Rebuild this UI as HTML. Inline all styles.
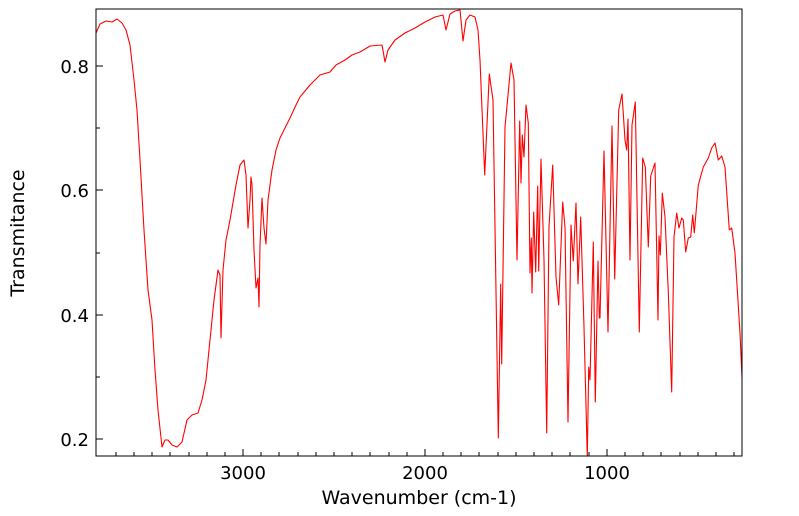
<!DOCTYPE html>
<html><head><style>body{margin:0;background:#fff}svg{display:block}</style></head><body>
<svg width="799" height="516" xmlns="http://www.w3.org/2000/svg" font-family="DejaVu Sans, sans-serif">
<rect width="799" height="516" fill="#fff"/>
<defs><clipPath id="c"><rect x="96" y="9" width="646" height="447"/></clipPath></defs>
<polyline clip-path="url(#c)" fill="none" stroke="#ff0000" stroke-width="1.1" stroke-linejoin="round" points="96,33 100,24 106,21 112,22 117,19 122,23 126,30 130,45 134,80 137,110 140,160 144,230 148,290 152,320 155,370 158,410 162,447 165,440 168,440 172,445 177,447 182,442 187,420 192,415 198,413 202,400 206,380 210,340 214,300 218,270 220,275 221,338 223,270 226,240 230,220 236,185 240,165 244,160 246,175 248,228 250,200 251,177 252,185 254,250 256,288 258,278 259,307 260,245 262,198 264,228 266,244 268,200 272,170 276,150 280,138 285,128 290,118 296,105 300,97 310,85 320,75 330,72 336,65 345,60 352,55 360,52 370,46 382,45 385,62 388,50 395,40 405,33 415,28 425,22 435,17 443,15 446,30 450,14 455,11 460,10 463,41 466,20 470,15 475,17 478,30 480,60 484.7,175 489.3,74 493,100 498.3,438 500.7,284 501.7,364 505,127 511,63 514,80 517,260 519.7,121 521,183 522.3,135 524,157 526,105 528.3,123 530,273 531.3,238 532,293 533.7,212 535.7,272 537.7,186 538.7,271 541,159 544,260 546.7,433 549,227 552.7,165 556,277 558.7,305 562.7,202 565,227 568,422 571,225 573.3,261 576,203 578,284 580.7,217 584,327 587.3,457 588.7,367 590,380 593.3,242 595.3,402 598,261 599.3,318 600,318 604,151 608,332 612,126 614.7,279 618.7,110 622,94 625,140 626.7,150 628,119 630,260 632,125 635.3,102 639.3,332 642.7,158 645.3,167 648.3,247 650.7,176 655,163 658,320 659,236 660.3,255 662.3,193 665,217 668.3,292 671.7,392 674,237 676.7,213 679,228 681.7,218 683.3,220 685.7,252 688.3,238 690.7,237 692.7,215 694.3,233 698.3,185 703.3,167 708.3,158 711.7,148 715,143 718.3,160 721.7,156 725,167 729.3,230 731.7,228 735,253 740,333 742.7,393"/>
<rect x="96" y="9" width="646" height="447" fill="none" stroke="#000" stroke-width="1"/>
<g stroke="#000" stroke-width="1">
<line x1="243" y1="456" x2="243" y2="449"/><line x1="425" y1="456" x2="425" y2="449"/><line x1="607" y1="456" x2="607" y2="449"/>
<line x1="96" y1="66" x2="103" y2="66"/><line x1="96" y1="190" x2="103" y2="190"/><line x1="96" y1="315" x2="103" y2="315"/><line x1="96" y1="439" x2="103" y2="439"/>
<line x1="96" y1="128" x2="100" y2="128"/><line x1="96" y1="253" x2="100" y2="253"/><line x1="96" y1="377" x2="100" y2="377"/>
</g>
<g stroke="#000" stroke-width="1">
<line x1="116" y1="456" x2="116" y2="452"/><line x1="134" y1="456" x2="134" y2="452"/><line x1="152" y1="456" x2="152" y2="452"/><line x1="170" y1="456" x2="170" y2="452"/><line x1="189" y1="456" x2="189" y2="452"/><line x1="207" y1="456" x2="207" y2="452"/><line x1="225" y1="456" x2="225" y2="452"/>
<line x1="261" y1="456" x2="261" y2="452"/><line x1="279" y1="456" x2="279" y2="452"/><line x1="298" y1="456" x2="298" y2="452"/><line x1="316" y1="456" x2="316" y2="452"/><line x1="334" y1="456" x2="334" y2="452"/><line x1="352" y1="456" x2="352" y2="452"/><line x1="370" y1="456" x2="370" y2="452"/><line x1="389" y1="456" x2="389" y2="452"/><line x1="407" y1="456" x2="407" y2="452"/>
<line x1="443" y1="456" x2="443" y2="452"/><line x1="461" y1="456" x2="461" y2="452"/><line x1="479" y1="456" x2="479" y2="452"/><line x1="498" y1="456" x2="498" y2="452"/><line x1="516" y1="456" x2="516" y2="452"/><line x1="534" y1="456" x2="534" y2="452"/><line x1="552" y1="456" x2="552" y2="452"/><line x1="570" y1="456" x2="570" y2="452"/><line x1="589" y1="456" x2="589" y2="452"/>
<line x1="625" y1="456" x2="625" y2="452"/><line x1="643" y1="456" x2="643" y2="452"/><line x1="661" y1="456" x2="661" y2="452"/><line x1="680" y1="456" x2="680" y2="452"/><line x1="698" y1="456" x2="698" y2="452"/><line x1="716" y1="456" x2="716" y2="452"/><line x1="734" y1="456" x2="734" y2="452"/>
</g>
<g font-size="18" fill="#000" text-anchor="middle">
<text x="243" y="479">3000</text><text x="425" y="479">2000</text><text x="607" y="479">1000</text>
<text x="419" y="504" font-size="19">Wavenumber (cm-1)</text>
</g>
<g font-size="18" fill="#000" text-anchor="end">
<text x="89" y="73">0.8</text><text x="89" y="197">0.6</text><text x="89" y="322">0.4</text><text x="89" y="446">0.2</text>
</g>
<text x="24" y="233" font-size="19" text-anchor="middle" transform="rotate(-90 24 233)">Transmitance</text>
</svg>
</body></html>
